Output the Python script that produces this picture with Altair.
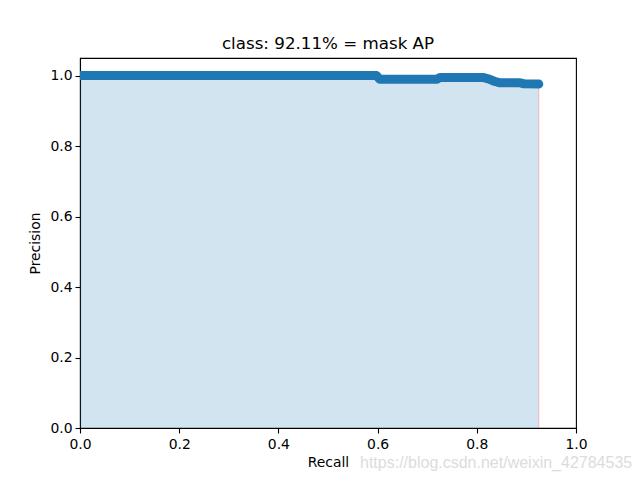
import altair as alt
import pandas as pd

# Precision-recall curve
recall = [0.0, 0.598, 0.604, 0.720, 0.726, 0.812, 0.825, 0.835, 0.845, 0.885, 0.895, 0.925]
precision = [1.0, 1.0, 0.990, 0.990, 0.995, 0.995, 0.990, 0.984, 0.980, 0.980, 0.977, 0.976]

title_text = "class: 92.11% = mask AP"
watermark = "https://blog.csdn.net/weixin_42784535"
x_ticks = [0.0, 0.2, 0.4, 0.6, 0.8, 1.0]
y_ticks = [0.0, 0.2, 0.4, 0.6, 0.8, 1.0]

df = pd.DataFrame({"recall": recall, "precision": precision})
edge = pd.DataFrame({"recall": [recall[-1]], "precision": [precision[-1]], "zero": [0.0]})

FONT = "DejaVu Sans"

xscale = alt.Scale(domain=[0, 1], nice=False, zero=False)
yscale = alt.Scale(domain=[0, 1.05], nice=False, zero=False)

xaxis = alt.Axis(values=x_ticks, format=".1f", title="Recall", grid=False, labelFlush=False,
                 tickSize=5, labelPadding=4, titlePadding=5)
yaxis = alt.Axis(values=y_ticks, format=".1f", title="Precision", grid=False, labelFlush=False,
                 tickSize=5, labelPadding=3, titlePadding=7)

area = alt.Chart(df).mark_area(color="#1f77b4", opacity=0.2, interpolate="linear").encode(
    x=alt.X("recall:Q", scale=xscale, axis=xaxis),
    y=alt.Y("precision:Q", scale=yscale, axis=yaxis),
)

edge_rule = alt.Chart(edge).mark_rule(color="#ff0000", opacity=0.2, strokeWidth=1.2).encode(
    x=alt.X("recall:Q", scale=xscale),
    y=alt.Y("zero:Q", scale=yscale),
    y2="precision:Q",
)

line = alt.Chart(df).mark_line(color="#1f77b4", strokeWidth=9, strokeCap="round",
                               strokeJoin="round", clip=True).encode(
    x=alt.X("recall:Q", scale=xscale),
    y=alt.Y("precision:Q", scale=yscale),
)

wm = alt.Chart(pd.DataFrame({"t": [watermark]})).mark_text(
    font="Liberation Sans", fontSize=16, color="#dcdcdc", align="left", baseline="middle"
).encode(text="t:N", x=alt.value(280), y=alt.value(405))

chart = alt.layer(area, edge_rule, line, wm).properties(
    width=496,
    height=370,
    background="white",
    title=alt.Title(title_text, font=FONT, fontSize=16.7, fontWeight="normal",
                    color="black", anchor="middle", offset=5),
    autosize=alt.AutoSizeParams(type="none"),
    padding={"left": 72, "top": 50, "right": 56, "bottom": 46},
).configure_view(
    stroke="black", strokeWidth=1.1
).configure_axis(
    domainColor="black", domainWidth=1.1, tickColor="black", tickWidth=1.1,
    labelFont=FONT, labelFontSize=13.9, labelColor="black",
    titleFont=FONT, titleFontSize=13.9, titleFontWeight="normal", titleColor="black",
)

chart.save("out.html", embed_options={"renderer": "svg", "actions": False})
